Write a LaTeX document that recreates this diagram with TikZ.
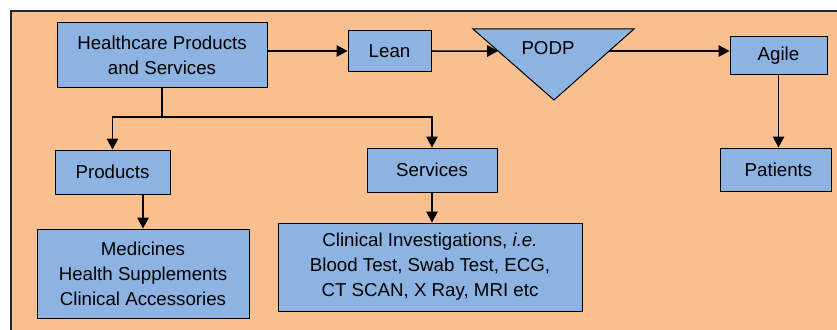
\documentclass[tikz,border=0pt]{standalone}
\usepackage{fontspec}
\setmainfont{Liberation Sans}
\usetikzlibrary{arrows.meta,calc}
\definecolor{panel}{HTML}{F9C08F}
\definecolor{boxfill}{HTML}{8DB3E2}
\begin{document}
\begin{tikzpicture}[x=1pt,y=-1pt,
  box/.style={draw=black,fill=boxfill,line width=1pt,inner sep=0pt,align=center,
    font=\fontsize{18.7}{25}\selectfont},
  link/.style={line width=1.5pt},
  arr/.style={link,-{Triangle[length=11pt,width=11.5pt]}}]
  \useasboundingbox (0,0) rectangle (837,329);
  \clip (0,0) rectangle (837,329);
  % background panel (runs past the right and bottom edges)
  \draw[fill=panel,line width=1.2pt,draw=black!85] (11,11) rectangle (860,350);

  % boxes
  \node[box,minimum width=210pt,minimum height=64pt] (hps) at (162,55) {Healthcare Products\\and Services};
  \node[box,minimum width=83pt,minimum height=40pt] (lean) at (389.5,51) {Lean};
  \node[box,minimum width=97pt,minimum height=37pt] (agile) at (778.5,55.5) {Agile};
  \node[box,minimum width=111pt,minimum height=43pt] (patients) at (775.5,169.5) {\hspace*{6pt}Patients};
  \node[box,minimum width=115pt,minimum height=44pt] (products) at (112.5,172) {Products};
  \node[box,minimum width=130pt,minimum height=44pt] (services) at (432,170) {Services};
  \node[box,minimum width=212pt,minimum height=89pt] (medicines) at (143,273.5) {Medicines\\Health Supplements\\Clinical Accessories};
  \node[box,minimum width=304pt,minimum height=88pt] (clinical) at (430,267) {Clinical Investigations, \textit{i.e.}\\Blood Test, Swab Test, ECG,\\CT SCAN, X Ray, MRI etc};

  % PODP triangle
  \coordinate (tl) at (473,29);
  \coordinate (tr) at (634,29);
  \coordinate (ap) at (554,100);
  \draw[fill=boxfill,line width=1pt] (tl) -- (tr) -- (ap) -- cycle;
  \node[font=\fontsize{18.7}{25}\selectfont] (podp) at (548,48) {PODP};
  \coordinate (pl) at ($(tl)!0.31!(ap)$);
  \coordinate (pr) at ($(tr)!0.31!(ap)$);

  % top flow
  \draw[arr] (lean.west -| hps.east) -- (lean.west);
  \draw[arr] (lean.east) -- (pl);
  \draw[arr] (pr) -- (pr -| agile.west);
  \draw[arr] (agile.south) -- (agile.south |- patients.north);

  % split into products and services
  \coordinate (jn) at (162,117);
  \draw[link] (hps.south) -- (jn);
  \draw[arr] (jn) -| (products.north);
  \draw[arr] (jn) -| (services.north);
  \draw[arr] (products.south -| medicines.north) -- (medicines.north);
  \draw[arr] (services.south) -- (services.south |- clinical.north);
\end{tikzpicture}
\end{document}
